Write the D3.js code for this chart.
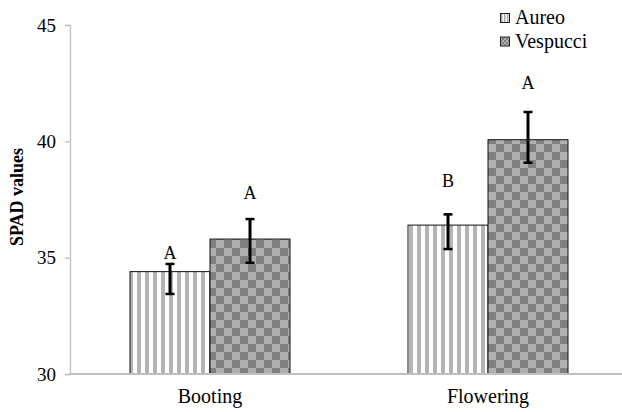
<!DOCTYPE html>
<html><head><meta charset="utf-8">
<script src="https://cdn.jsdelivr.net/npm/d3@7"></script>
<style>body{margin:0;background:#fff}svg{display:block}</style>
</head><body><svg id="c" width="622" height="412"></svg>
<script>
const categories = ["Booting", "Flowering"];
const seriesNames = ["Aureo", "Vespucci"];
const aureoValues = [34.40, 36.40];
const vespucciValues = [35.80, 40.07];
const aureoErrHigh = [34.73, 36.86];
const aureoErrLow = [33.44, 35.37];
const vespucciErrHigh = [36.66, 41.26];
const vespucciErrLow = [34.78, 39.08];
const aureoLetters = ["A", "B"];
const vespucciLetters = ["A", "A"];
const aureoLetterAt = [34.94, 38.04];
const vespucciLetterAt = [37.52, 42.25];
const yTicks = [30, 35, 40, 45];

const FONT = "'Liberation Serif','Times New Roman',Times,serif";
const svg = d3.select("#c");
const defs = svg.append("defs");
const ps = defs.append("pattern").attr("id","stripe").attr("patternUnits","userSpaceOnUse").attr("width",8).attr("height",8);
ps.append("rect").attr("width",8).attr("height",8).attr("fill","#fff");
ps.append("rect").attr("x",1).attr("width",4).attr("height",8).attr("fill","#b4b4b4");
const pc = defs.append("pattern").attr("id","check").attr("patternUnits","userSpaceOnUse").attr("width",16).attr("height",16);
pc.append("rect").attr("width",16).attr("height",16).attr("fill","#b0b0b0");
pc.append("rect").attr("width",8).attr("height",8).attr("fill","#808080");
pc.append("rect").attr("x",8).attr("y",8).attr("width",8).attr("height",8).attr("fill","#808080");
const ps2 = defs.append("pattern").attr("id","stripeS").attr("patternUnits","userSpaceOnUse").attr("width",3).attr("height",3);
ps2.append("rect").attr("width",3).attr("height",3).attr("fill","#fff");
ps2.append("rect").attr("width",1.5).attr("height",3).attr("fill","#a8a8a8");
const pc2 = defs.append("pattern").attr("id","checkS").attr("patternUnits","userSpaceOnUse").attr("width",4).attr("height",4);
pc2.append("rect").attr("width",4).attr("height",4).attr("fill","#b0b0b0");
pc2.append("rect").attr("width",2).attr("height",2).attr("fill","#808080");
pc2.append("rect").attr("x",2).attr("y",2).attr("width",2).attr("height",2).attr("fill","#808080");

const fills = ["url(#stripe)", "url(#check)"];
const legendFills = ["url(#stripeS)", "url(#checkS)"];

const y = d3.scaleLinear().domain([30,45]).range([374,25]);
const x = d3.scaleBand().domain(categories).range([71,627]);
const x1 = d3.scaleBand().domain(seriesNames).range([-80,80]);

// y axis
const yAxis = svg.append("g").attr("transform","translate(70,0)")
  .call(d3.axisLeft(y).tickValues(yTicks).tickSize(5).tickPadding(9).tickFormat(d3.format("d")));
yAxis.attr("font-family", FONT).attr("font-size", 19);
yAxis.select(".domain").attr("stroke","#bfbfbf").attr("stroke-width",1.3);
yAxis.selectAll(".tick line").attr("stroke","#bfbfbf").attr("stroke-width",1.3);
yAxis.selectAll(".tick text").attr("fill","#000");

const series = [
  {name: seriesNames[0], vals: aureoValues, hi: aureoErrHigh, lo: aureoErrLow, let: aureoLetters, lAt: aureoLetterAt, fill: fills[0]},
  {name: seriesNames[1], vals: vespucciValues, hi: vespucciErrHigh, lo: vespucciErrLow, let: vespucciLetters, lAt: vespucciLetterAt, fill: fills[1]}
];

series.forEach(s => {
  const g = svg.append("g");
  const d = categories.map((c,i)=>({c, v:s.vals[i]}));
  g.selectAll("rect").data(d).join("rect")
    .attr("x", dd => x(dd.c) + x.bandwidth()/2 + x1(s.name))
    .attr("width", x1.bandwidth())
    .attr("y", dd => y(dd.v))
    .attr("height", dd => y(30) - y(dd.v))
    .attr("fill", s.fill).attr("stroke","#111").attr("stroke-width",1);
});

// x axis line
svg.append("line").attr("x1",70).attr("x2",622).attr("y1",y(30)).attr("y2",y(30)).attr("stroke","#bfbfbf").attr("stroke-width",2);

series.forEach(s => {
  const g = svg.append("g");
  categories.forEach((c,i)=>{
    const cx = x(c) + x.bandwidth()/2 + x1(s.name) + x1.bandwidth()/2;
    g.append("line").attr("x1",cx).attr("x2",cx).attr("y1",y(s.hi[i])).attr("y2",y(s.lo[i])).attr("stroke","#000").attr("stroke-width",3);
    [s.hi[i], s.lo[i]].forEach(v=>g.append("line").attr("x1",cx-4.5).attr("x2",cx+4.5).attr("y1",y(v)).attr("y2",y(v)).attr("stroke","#000").attr("stroke-width",2.5));
    g.append("text").attr("x",cx).attr("y",y(s.lAt[i])).attr("text-anchor","middle")
      .attr("font-family",FONT).attr("font-size",18).text(s.let[i]);
  });
});

// x labels
svg.append("g").selectAll("text").data(categories).join("text")
  .attr("x", c => x(c)+x.bandwidth()/2).attr("y", 403).attr("text-anchor","middle")
  .attr("font-family",FONT).attr("font-size",20).text(c=>c);

// y title
svg.append("text").attr("transform","translate(23,197) rotate(-90)").attr("text-anchor","middle")
  .attr("font-family",FONT).attr("font-size",18).attr("font-weight","bold").text("SPAD values");

// legend
const lg = svg.append("g");
seriesNames.forEach((n,i)=>{
  const yy = 13 + i*23.5;
  lg.append("rect").attr("x",500.5).attr("y",yy+0.5).attr("width",9).attr("height",9).attr("fill",legendFills[i]).attr("stroke","#222").attr("stroke-width",1);
  lg.append("text").attr("x",515).attr("y",yy+11).attr("font-family",FONT).attr("font-size",20).text(n);
});
</script></body></html>
